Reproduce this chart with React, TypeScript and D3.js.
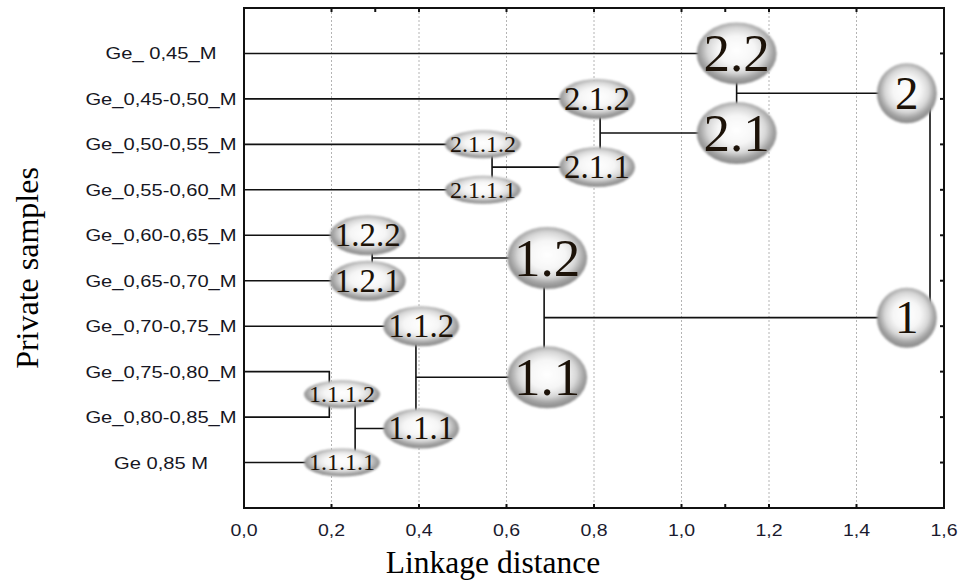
import React, { useRef, useEffect } from 'react';
import * as d3 from 'd3';

// leaves, top to bottom
const leafIds = ['L1', 'L2', 'L3', 'L4', 'L5', 'L6', 'L7', 'L8', 'L9', 'L10'];
const leafLabels = [
  'Ge_ 0,45_M',
  'Ge_0,45-0,50_M',
  'Ge_0,50-0,55_M',
  'Ge_0,55-0,60_M',
  'Ge_0,60-0,65_M',
  'Ge_0,65-0,70_M',
  'Ge_0,70-0,75_M',
  'Ge_0,75-0,80_M',
  'Ge_0,80-0,85_M',
  'Ge 0,85 M',
];

// joins, in order of construction
const mergeIds = ['1.1.1.2', '1.1.1', '1.2', '1.1', '2.1.1', '2.1', '1', '2', 'root'];
const mergeLeft = ['L8', '1.1.1.2', 'L5', 'L7', 'L3', 'L2', '1.2', 'L1', '2'];
const mergeRight = ['L9', 'L10', 'L6', '1.1.1', 'L4', '2.1.1', '1.1', '2.1', '1'];
const mergeHeights = [0.195, 0.254, 0.293, 0.393, 0.567, 0.814, 0.686, 1.126, 1.568];

// cluster badges
const badgeLabels = ['2.2', '2.1', '2', '2.1.2', '2.1.1', '2.1.1.2', '2.1.1.1', '1', '1.2', '1.1', '1.2.2', '1.2.1', '1.1.2', '1.1.1', '1.1.1.2', '1.1.1.1'];
const badgeNodes = ['L1', '2.1', '2', 'L2', '2.1.1', 'L3', 'L4', '1', '1.2', '1.1', 'L5', 'L6', 'L7', '1.1.1', '1.1.1.2', 'L10'];
const badgeAt = [1.126, 1.126, 1.515, 0.807, 0.807, 0.546, 0.546, 1.515, 0.693, 0.693, 0.283, 0.283, 0.405, 0.405, 0.224, 0.224];

const xTicks = [0, 0.2, 0.4, 0.6, 0.8, 1.0, 1.2, 1.4, 1.6];
const gridTicks = [0.2, 0.4, 0.6, 0.8, 1.0, 1.2, 1.4];
const topMinorTicks = [0.3, 1.1];
const bottomMinorTicks = [1.1];

const App = () => {
  const chartRef = useRef<SVGSVGElement>(null);

  useEffect(() => {
    const width = 964;
    const height = 581;
    const margin = { top: 8, right: 20, bottom: 73, left: 244 };

    const svg = d3.select(chartRef.current);
    svg.selectAll('*').remove();

    const x = d3.scaleLinear().domain([0, 1.6]).range([margin.left, width - margin.right]);
    const y = d3.scalePoint<string>().domain(leafIds).range([margin.top, height - margin.bottom]).padding(1);

    // node positions
    const nodes: Record<string, { y: number; h: number }> = {};
    leafIds.forEach(id => { nodes[id] = { y: y(id) as number, h: 0 }; });
    mergeIds.forEach((id, i) => {
      const a = nodes[mergeLeft[i]];
      const b = nodes[mergeRight[i]];
      nodes[id] = { y: (a.y + b.y) / 2, h: mergeHeights[i] };
    });

    const defs = svg.append('defs');
    const grad = defs.append('radialGradient')
      .attr('id', 'ball')
      .attr('cx', '50%').attr('cy', '45%').attr('r', '55%');
    [[0, '#ffffff'], [0.42, '#f6f6f6'], [0.66, '#d8d8d8'], [0.84, '#a2a2a2'], [1, '#888888']]
      .forEach(([o, c]) => grad.append('stop').attr('offset', o as number).attr('stop-color', c as string));
    defs.append('filter').attr('id', 'soft')
      .append('feGaussianBlur').attr('stdDeviation', 0.9);

    //grid
    svg.append('g')
      .selectAll('line')
      .data(gridTicks)
      .join('line')
      .attr('x1', d => x(d)).attr('x2', d => x(d))
      .attr('y1', margin.top).attr('y2', height - margin.bottom)
      .attr('stroke', '#b4b4b4')
      .attr('stroke-width', 1)
      .attr('stroke-dasharray', '2,2');

    //frame
    svg.append('rect')
      .attr('x', margin.left).attr('y', margin.top)
      .attr('width', width - margin.left - margin.right)
      .attr('height', height - margin.top - margin.bottom)
      .attr('fill', 'none')
      .attr('stroke', '#111')
      .attr('stroke-width', 2);

    //ticks
    const tk = svg.append('g').attr('stroke', '#111').attr('stroke-width', 2);
    tk.selectAll('.tt').data([...gridTicks, ...topMinorTicks]).join('line')
      .attr('x1', d => x(d)).attr('x2', d => x(d))
      .attr('y1', margin.top).attr('y2', margin.top + 4);
    tk.selectAll('.bt').data([...gridTicks, ...bottomMinorTicks]).join('line')
      .attr('x1', d => x(d)).attr('x2', d => x(d))
      .attr('y1', height - margin.bottom).attr('y2', height - margin.bottom - 4);
    tk.selectAll('.rt').data(leafIds).join('line')
      .attr('x1', width - margin.right).attr('x2', width - margin.right - 4)
      .attr('y1', d => y(d) as number).attr('y2', d => y(d) as number);

    //tick labels
    const fmt = (d: number) => d3.format('.1f')(d).replace('.', ',');
    svg.append('g')
      .selectAll('text')
      .data(xTicks)
      .join('text')
      .attr('transform', d => `translate(${x(d)},${height - margin.bottom + 28}) scale(1.22,1)`)
      .attr('text-anchor', 'middle')
      .style('font-family', 'Liberation Sans, Arial, sans-serif')
      .style('font-size', '16px')
      .style('fill', '#1a1a2e')
      .text(fmt);

    //leaf labels
    svg.append('g')
      .selectAll('text')
      .data(leafIds)
      .join('text')
      .attr('transform', d => `translate(161,${(y(d) as number) + 6}) scale(1.2,1)`)
      .attr('text-anchor', 'middle')
      .style('font-family', 'Liberation Sans, Arial, sans-serif')
      .style('font-size', '16.8px')
      .style('fill', '#161622')
      .text((d, i) => leafLabels[i]);

    //dendrogram links
    const links = svg.append('g').attr('stroke', '#111').attr('stroke-width', 1.6).attr('fill', 'none');
    mergeIds.forEach((id, i) => {
      const n = nodes[id];
      const a = nodes[mergeLeft[i]];
      const b = nodes[mergeRight[i]];
      const xm = x(n.h);
      links.append('path')
        .attr('d', `M${x(a.h)},${a.y}H${xm}V${b.y}H${x(b.h)}`);
    });

    //badges
    const badges = svg.append('g')
      .selectAll('g')
      .data(badgeLabels)
      .join('g')
      .attr('transform', (d, i) => `translate(${x(badgeAt[i])},${nodes[badgeNodes[i]].y})`);

    const level = (d: string) => d.split('.').length;
    const rx = (d: string) => [0, 30, 40, 38, 38][level(d)];
    const ry = (d: string) => [0, 30, 31, 20, 14][level(d)];
    const fs = (d: string) => [0, 47, 53, 33, 24][level(d)];

    badges.append('ellipse')
      .attr('rx', rx)
      .attr('ry', ry)
      .attr('fill', 'url(#ball)')
      .attr('filter', 'url(#soft)');

    badges.append('text')
      .attr('text-anchor', 'middle')
      .attr('y', d => fs(d) * 0.33)
      .style('font-family', 'Liberation Serif, Times New Roman, serif')
      .style('font-size', d => `${fs(d)}px`)
      .style('fill', '#1c1208')
      .text(d => d);

    //axis titles
    svg.append('text')
      .attr('x', 493)
      .attr('y', 573)
      .attr('text-anchor', 'middle')
      .style('font-family', 'Liberation Serif, Times New Roman, serif')
      .style('font-size', '31.5px')
      .style('fill', '#000')
      .text('Linkage distance');

    svg.append('text')
      .attr('transform', 'translate(38,268) rotate(-90)')
      .attr('text-anchor', 'middle')
      .style('font-family', 'Liberation Serif, Times New Roman, serif')
      .style('font-size', '32px')
      .style('fill', '#000')
      .text('Private samples');
  }, []);

  return (
    <svg
      ref={chartRef}
      width={964}
      height={581}
      style={{ position: 'absolute', left: 0, top: 0, background: '#fff' }}
    />
  );
};

export default App;
